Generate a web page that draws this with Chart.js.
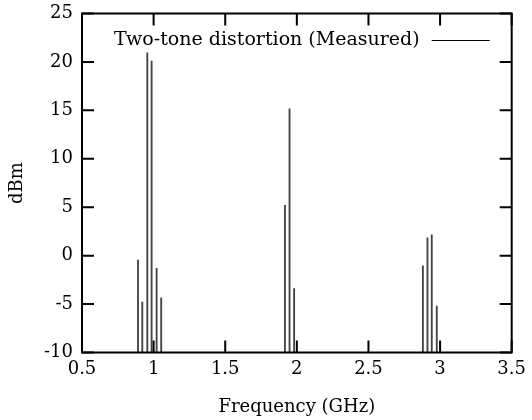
<!DOCTYPE html>
<html>
<head>
<meta charset="utf-8">
<script src="https://cdn.jsdelivr.net/npm/chart.js@4/dist/chart.umd.min.js"></script>
<style>
  html, body { margin: 0; padding: 0; background: #fff; }
  #wrap { width: 532px; height: 420px; }
</style>
</head>
<body>
<div id="wrap"><canvas id="myChart" width="532" height="420"></canvas></div>
<script>
// measured spectrum lines (GHz, dBm)
const freqs = [0.891, 0.921, 0.956, 0.986, 1.021, 1.053,
               1.917, 1.949, 1.981,
               2.880, 2.912, 2.942, 2.977];
const levels = [-0.45, -4.8, 20.95, 20.1, -1.3, -4.35,
                5.2, 15.15, -3.4,
                -1.05, 1.85, 2.15, -5.2];
const seriesLabel = 'Two-tone distortion (Measured)';
const xTitle = 'Frequency (GHz)';
const yTitle = 'dBm';

const serif = 'DejaVu Serif';

// frame, inward ticks on all four sides, and the gnuplot-style key
const framePlugin = {
    id: 'frame',
    afterDraw(chart) {
        const ctx = chart.ctx;
        const a = chart.chartArea;
        const xs = chart.scales.x, ys = chart.scales.y;
        const tl = 12;
        ctx.save();
        ctx.strokeStyle = '#000';
        ctx.lineWidth = 2;
        ctx.beginPath();
        xs.ticks.forEach(t => {
            const px = xs.getPixelForValue(t.value);
            ctx.moveTo(px, a.bottom); ctx.lineTo(px, a.bottom - tl);
            ctx.moveTo(px, a.top); ctx.lineTo(px, a.top + tl);
        });
        ys.ticks.forEach(t => {
            const py = ys.getPixelForValue(t.value);
            ctx.moveTo(a.left, py); ctx.lineTo(a.left + tl, py);
            ctx.moveTo(a.right, py); ctx.lineTo(a.right - tl, py);
        });
        ctx.stroke();
        ctx.strokeRect(a.left, a.top, a.right - a.left, a.bottom - a.top);

        // key
        const ky = a.top + 27;
        const lineEnd = a.right - 22;
        const lineStart = lineEnd - 58;
        ctx.font = '19px "' + serif + '"';
        ctx.fillStyle = '#000';
        ctx.textAlign = 'right';
        ctx.textBaseline = 'middle';
        ctx.fillText(seriesLabel, lineStart - 12, ky);
        ctx.lineWidth = 1.2;
        ctx.beginPath();
        ctx.moveTo(lineStart, ky);
        ctx.lineTo(lineEnd, ky);
        ctx.stroke();
        ctx.restore();
    }
};

const ctx = document.getElementById('myChart').getContext('2d');
const data = {
    datasets: [{
        label: seriesLabel,
        data: freqs.map((f, i) => ({ x: f, y: levels[i] })),
        base: -10,
        backgroundColor: '#444',
        borderWidth: 0,
        barThickness: 1.2
    }]
};

const config = {
    type: 'bar',
    data: data,
    options: {
        responsive: false,
        animation: false,
        layout: {
            padding: { top: 13.5, right: 18, left: 0, bottom: 0 }
        },
        plugins: {
            legend: { display: false },
            tooltip: { enabled: false }
        },
        scales: {
            x: {
                type: 'linear',
                min: 0.5,
                max: 3.5,
                offset: false,
                grid: { display: false, drawTicks: false },
                border: { display: false },
                ticks: {
                    stepSize: 0.5,
                    color: '#000',
                    padding: 6,
                    maxRotation: 0,
                    font: { family: serif, size: 18 },
                    callback: v => String(+v.toFixed(2))
                },
                title: {
                    display: true,
                    text: xTitle,
                    color: '#000',
                    padding: { top: 0, bottom: 2 },
                    font: { family: serif, size: 18 }
                },
                afterFit(scale) { scale.height = 67.5; }
            },
            y: {
                type: 'linear',
                min: -10,
                max: 25,
                grid: { display: false, drawTicks: false },
                border: { display: false },
                ticks: {
                    stepSize: 5,
                    color: '#000',
                    padding: 9,
                    font: { family: serif, size: 18 }
                },
                title: {
                    display: true,
                    text: yTitle,
                    color: '#000',
                    padding: { top: 7, bottom: 0 },
                    font: { family: serif, size: 18 }
                },
                afterFit(scale) {
                    scale.width = 82;
                    // labels may overhang the frame, as in the original
                    scale.paddingTop = 0;
                    scale.paddingBottom = 0;
                }
            }
        }
    },
    plugins: [framePlugin]
};

new Chart(ctx, config);
</script>
</body>
</html>
